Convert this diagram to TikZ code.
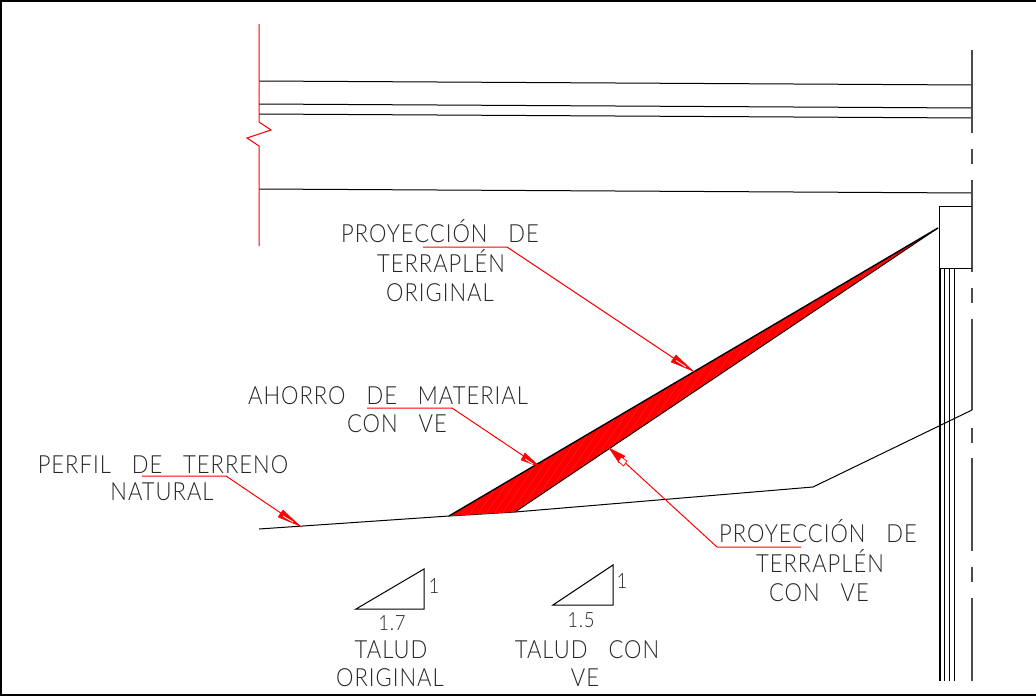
\documentclass[tikz,border=0pt]{standalone}
\usepackage{fontspec}
\setmainfont{Lato Light}
\newfontfamily\cadfont[LetterSpace=4,WordSpace=3,FakeStretch=0.88]{Lato Light}
\definecolor{cadred}{RGB}{255,0,0}
\definecolor{cadstripe}{RGB}{255,28,28}
\tikzset{
  cadline/.style={draw=black,line width=1pt},
  centreline/.style={draw=black!70,line width=1.1pt},
  redline/.style={draw=cadred,line width=1pt},
  cadtext/.style={inner sep=0pt,align=center,font=\cadfont\fontsize{25}{30}\selectfont,text=black!85},
  smalltext/.style={inner sep=0pt,font=\cadfont\fontsize{21}{25}\selectfont,text=black!85},
  hood/.style={fill=cadred,draw=cadred,line width=0.4pt},
  slit/.style={draw=white,line width=0.8pt}
}
\begin{document}
\begin{tikzpicture}[x=1pt,y=-1pt]
\useasboundingbox (0,0) rectangle (1036,696);
\fill[white] (0,0) rectangle (1036,696);
\draw[black,line width=1.2pt] (1036,1) -- (1,1) -- (1,695) -- (1036,695);
% beams
\foreach \a/\b in {81/85,104/108,114/118,189/193}{\draw[cadline] (259,\a) -- (972,\b);}
% break line
\draw[redline] (259,24) -- (259,122) -- (271,130) -- (247,138) -- (259,146) -- (259,246);
% centre line
\draw[centreline] (972,50) -- (972,133) (972,149) -- (972,164) (972,180) -- (972,272) (972,288) -- (972,303)
 (972,319) -- (972,410) (972,428) -- (972,443) (972,458) -- (972,551) (972,567) -- (972,582) (972,598) -- (972,681);
% abutment
\draw[cadline] (939,269) -- (939,206) -- (972,206);
\draw[cadline] (939,268) -- (972,268);
\foreach \x in {939,940.5,944,949,954}{\draw[cadline] (\x,268) -- (\x,681);}
% terrain
\coordinate (t0) at (259,529);
\coordinate (t1) at (449,516);
\coordinate (t2) at (515,512);
\coordinate (t3) at (813,487);
\coordinate (t4) at (972,410);
\coordinate (apex) at (938,228);
\draw[cadline] (t0) -- (t1) -- (t2) -- (t3) -- (t4);
\fill[cadred] (t1) -- (apex) -- (t2) -- cycle;
\begin{scope}
  \clip (t1) -- (apex) -- (t2) -- cycle;
  \foreach \k in {0,...,60}{
    \draw[cadstripe,line width=0.5pt] (450+8*\k,520) -- (640+8*\k,240);
  }
\end{scope}
\draw[black,line width=1.4pt] (t1) -- (apex);
\draw[black,line width=0.9pt] (t2) -- (apex);
% leader 1
\node[cadtext,anchor=base] (l1) at (440,242) {PROYECCIÓN DE};
\node[cadtext,anchor=base] (l1b) at (441,272) {TERRAPLÉN};
\node[cadtext,anchor=base] (l1c) at (440,301) {ORIGINAL};
\coordinate (a1a) at (423,247);
\coordinate (a1b) at (507,247);
\coordinate (a1c) at (693,371);
\draw[redline] (a1a) -- (a1b) -- (a1c);
\fill[hood] (a1c) -- (676,355) -- (671,362) -- cycle;
\draw[slit] (676,360.5) -- (686,367);
% leader 2
\node[cadtext,anchor=base] (l2) at (388,404) {AHORRO DE MATERIAL};
\node[cadtext,anchor=base] (l2b) at (397,432) {CON VE};
\coordinate (a2a) at (367,408);
\coordinate (a2b) at (452,408);
\coordinate (a2c) at (540,467);
\draw[redline] (a2a) -- (a2b) -- (a2c);
\fill[hood] (a2c) -- (525,453) -- (521,460) -- cycle;
\draw[slit] (525,459) -- (533,464);
% leader 3
\node[cadtext,anchor=base] (l3) at (163,473) {PERFIL DE TERRENO};
\node[cadtext,anchor=base] (l3b) at (162,500) {NATURAL};
\coordinate (a3a) at (142,476);
\coordinate (a3b) at (226,476);
\coordinate (a3c) at (300,526);
\draw[redline] (a3a) -- (a3b) -- (a3c);
\fill[hood] (a3c) -- (283,510) -- (278,517) -- cycle;
\draw[slit] (283,516) -- (293,522);
% leader 4
\node[cadtext,anchor=base] (l4) at (818,542) {PROYECCIÓN DE};
\node[cadtext,anchor=base] (l4b) at (820,572) {TERRAPLÉN};
\node[cadtext,anchor=base] (l4c) at (819,601) {CON VE};
\coordinate (a4a) at (801,547);
\coordinate (a4b) at (717,547);
\coordinate (a4c) at (609,448);
\draw[redline] (a4a) -- (a4b) -- (a4c);
\fill[hood] (a4c) -- (625,456) -- (619,463) -- cycle;
\draw[redline,fill=white,line width=0.7pt] (621.5,457) -- (627,461) -- (623.5,466) -- (618,461) -- cycle;
% triangles
\draw[cadline] (356,609) -- (424,569) -- (424,609) -- cycle;
\node[smalltext,anchor=base] (n1) at (392,630) {1.7};
\node[smalltext,anchor=base] (n2) at (434,593) {1};
\node[cadtext,anchor=base] (t1a) at (391,658) {TALUD};
\node[cadtext,anchor=base] (t1b) at (390,686) {ORIGINAL};
\draw[cadline] (553,605) -- (613,565) -- (613,605) -- cycle;
\node[smalltext,anchor=base] (n3) at (581,627) {1.5};
\node[smalltext,anchor=base] (n4) at (622,588) {1};
\node[cadtext,anchor=base] (t2a) at (587,658) {TALUD CON};
\node[cadtext,anchor=base] (t2b) at (585,686) {VE};
\end{tikzpicture}
\end{document}
